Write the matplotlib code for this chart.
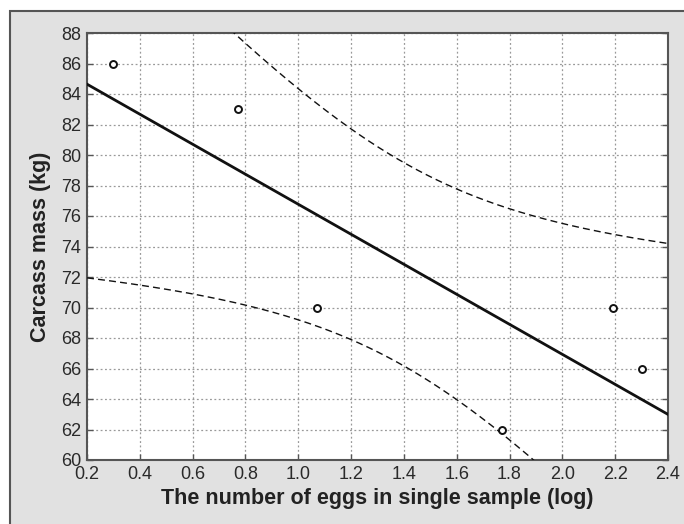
import numpy as np
import matplotlib
matplotlib.use("Agg")
import matplotlib.pyplot as plt
from matplotlib.patches import Rectangle

plt.rcParams['font.family'] = ['Liberation Sans', 'DejaVu Sans']

# Data (log10 of egg counts vs carcass mass)
eggs_log = [0.30, 0.77, 1.07, 1.77, 2.19, 2.30]
carcass_kg = [86, 83, 70, 62, 70, 66]
x_ticks = [0.2, 0.4, 0.6, 0.8, 1.0, 1.2, 1.4, 1.6, 1.8, 2.0, 2.2, 2.4]
y_ticks = [60, 62, 64, 66, 68, 70, 72, 74, 76, 78, 80, 82, 84, 86, 88]
t_crit = 2.776  # t(0.975, df=4)

x = np.array(eggs_log)
y = np.array(carcass_kg)
n = len(x)
slope, intercept = np.polyfit(x, y, 1)
resid = y - (intercept + slope * x)
s = np.sqrt(np.sum(resid ** 2) / (n - 2))
sxx = np.sum((x - x.mean()) ** 2)
xs = np.linspace(0.2, 2.4, 300)
fit = intercept + slope * xs
half = t_crit * s * np.sqrt(1.0 / n + (xs - x.mean()) ** 2 / sxx)

fig = plt.figure(figsize=(6.84, 5.24), dpi=100)
fig.patch.set_facecolor('white')
bg = Rectangle((10 / 684, -0.05), 1.0, 1 - 11 / 524 + 0.05, transform=fig.transFigure,
               facecolor='#e1e1e1', edgecolor='#555555', linewidth=1.5, zorder=-10)
fig.patches.append(bg)

ax = fig.add_axes([87 / 684, 1 - 460 / 524, (668 - 87) / 684, (460 - 33) / 524])
ax.set_facecolor('white')

ax.plot(xs, fit, color='#111111', lw=2.0, zorder=3)
ax.plot(xs, fit + half, color='#111111', lw=1.0, ls=(0, (5, 3)), zorder=3)
ax.plot(xs, fit - half, color='#111111', lw=1.0, ls=(0, (5, 3)), zorder=3)
ax.plot(x, y, ls='none', marker='o', markersize=5, markerfacecolor='white',
        markeredgecolor='#111111', markeredgewidth=1.4, zorder=4)

ax.set_xlim(0.2, 2.4)
ax.set_ylim(60, 88)
ax.set_xticks(x_ticks)
ax.set_yticks(y_ticks)
ax.set_xticklabels([f"{v:.1f}" for v in x_ticks])
ax.set_yticklabels([str(v) for v in y_ticks])
ax.grid(True, color='#999999', ls=(0, (1.5, 2)), lw=0.9)
ax.tick_params(direction='in', length=4, width=1, color='#555555', labelsize=13,
               labelcolor='#2a2a2a', pad=4, top=False, right=True)
for sp in ax.spines.values():
    sp.set_color('#555555')
    sp.set_linewidth(1.5)

ax.set_xlabel('The number of eggs in single sample (log)', fontsize=15.5, fontweight='bold',
              color='#222222', labelpad=4)
ax.set_ylabel('Carcass mass (kg)', fontsize=15.5, fontweight='bold', color='#222222', labelpad=7)

fig.savefig('out.png', dpi=100, facecolor=fig.get_facecolor())
